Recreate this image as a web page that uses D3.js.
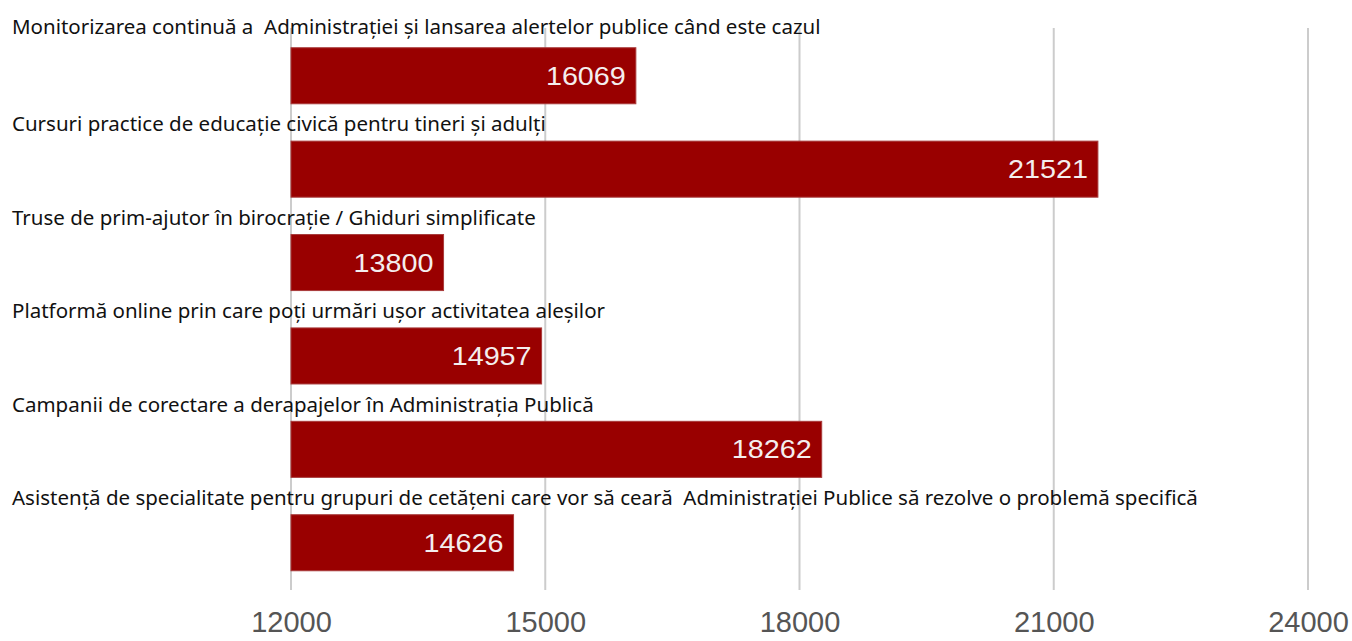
<!DOCTYPE html>
<html><head><meta charset="utf-8">
<script src="https://cdn.jsdelivr.net/npm/d3@7"></script>
<style>body{margin:0;background:#fff;}svg{display:block;}</style>
</head><body>
<svg id="chart" width="1352" height="641"></svg>
<script>
const categories = [
  "Monitorizarea continuă a  Administrației și lansarea alertelor publice când este cazul",
  "Cursuri practice de educație civică pentru tineri și adulți",
  "Truse de prim-ajutor în birocrație / Ghiduri simplificate",
  "Platformă online prin care poți urmări ușor activitatea aleșilor",
  "Campanii de corectare a derapajelor în Administrația Publică",
  "Asistență de specialitate pentru grupuri de cetățeni care vor să ceară  Administrației Publice să rezolve o problemă specifică"
];
const values = [16069, 21521, 13800, 14957, 18262, 14626];
const ticks = [12000, 15000, 18000, 21000, 24000];

const svg = d3.select("#chart");
const x = d3.scaleLinear().domain([12000, 24000]).range([291, 1308]);
const y = d3.scaleBand().domain(categories).range([28.5, 590]).paddingInner(0.4).paddingOuter(0.206);

// grid
svg.append("g").selectAll("line").data(ticks).join("line")
  .attr("x1", d => x(d)).attr("x2", d => x(d))
  .attr("y1", 28).attr("y2", 590)
  .attr("stroke", "#cccccc").attr("stroke-width", 2);

// axis
const axis = d3.axisBottom(x).tickValues(ticks).tickSize(0).tickPadding(0).tickFormat(d3.format("d"));
const ag = svg.append("g").attr("transform", "translate(0,611)").call(axis);
ag.select(".domain").remove();
ag.selectAll("text").attr("font-family", "'Liberation Sans', Arial, sans-serif")
  .attr("font-size", 29).attr("fill", "#555555").attr("dy", "0.71em");

// bars
svg.append("g").selectAll("rect").data(values).join("rect")
  .attr("x", x(12000)).attr("y", (d, i) => y(categories[i]))
  .attr("width", d => x(d) - x(12000)).attr("height", y.bandwidth())
  .attr("fill", "#990000").attr("stroke", "#a83a3a").attr("stroke-width", 1);

// value labels
svg.append("g").selectAll("text").data(values).join("text")
  .attr("transform", (d, i) => `translate(${x(d) - 10},${y(categories[i]) + y.bandwidth() / 2}) scale(1.15,1)`)
  .attr("text-anchor", "end").attr("dy", "0.36em")
  .attr("font-family", "'Liberation Sans', Arial, sans-serif").attr("font-size", 25)
  .attr("fill", "#f4eeee").text(d => d);

// category labels
svg.append("g").selectAll("text").data(categories).join("text")
  .attr("x", 12).attr("y", (d, i) => y(d) - (i === 0 ? 21 : 17)).attr("dy", "0.35em")
  .attr("font-family", "'Noto Sans', sans-serif").attr("font-size", 20.5)
  .attr("fill", "#111111").style("white-space", "pre").text(d => d);
</script>
</body></html>
